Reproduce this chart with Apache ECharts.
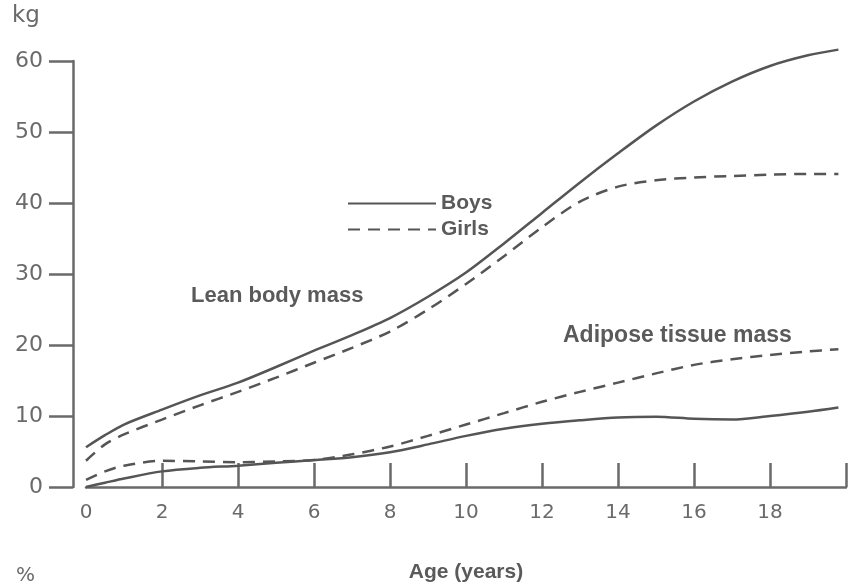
<!DOCTYPE html>
<html>
<head>
<meta charset="utf-8">
<script src="https://cdn.jsdelivr.net/npm/echarts@6/dist/echarts.min.js"></script>
<style>
  html, body { margin: 0; padding: 0; background: #fff; }
  #chart { width: 852px; height: 588px; }
</style>
</head>
<body>
<div id="chart"></div>
<script>
const ages = [0, 0.5, 1, 2, 3, 4, 5, 6, 7, 8, 9, 10, 11, 12, 13, 14, 15, 16, 17, 18, 19, 19.8];

// kg
const boysLean    = [5.6, 7.3, 8.8, 10.9, 12.9, 14.7, 16.9, 19.2, 21.4, 23.8, 26.8, 30.2, 34.3, 38.6, 42.9, 47.0, 50.9, 54.3, 57.1, 59.3, 60.8, 61.6];
const girlsLean   = [3.7, 6.0, 7.4, 9.5, 11.5, 13.4, 15.4, 17.5, 19.6, 21.9, 25.0, 28.6, 32.5, 36.6, 40.2, 42.3, 43.2, 43.6, 43.8, 44.0, 44.1, 44.1];
const girlsAdipose = [1.0, 2.2, 3.0, 3.7, 3.6, 3.5, 3.6, 3.8, 4.6, 5.7, 7.2, 8.8, 10.4, 12.0, 13.4, 14.7, 16.0, 17.2, 18.0, 18.6, 19.1, 19.4];
const boysAdipose = [0.0, 0.6, 1.2, 2.2, 2.7, 3.0, 3.4, 3.8, 4.2, 4.9, 6.0, 7.2, 8.2, 8.9, 9.4, 9.8, 9.9, 9.6, 9.5, 10.0, 10.6, 11.2];

const xTickValues  = [2, 4, 6, 8, 10, 12, 14, 16, 18, 20];
const xLabelValues = [0, 2, 4, 6, 8, 10, 12, 14, 16, 18];

const lineColor = '#555';
const axisColor = '#6a6a6a';
const textColor = '#5a5a5a';
const dash = [12, 8];

const chart = echarts.init(document.getElementById('chart'));

function pairs(vals) {
  return ages.map((a, i) => [a, vals[i]]);
}

function curve(name, vals, dashed) {
  return {
    name: name,
    type: 'line',
    data: pairs(vals),
    smooth: 0.3,
    symbol: 'none',
    silent: true,
    clip: false,
    lineStyle: { color: lineColor, width: 2.5, type: dashed ? dash : 'solid' },
    itemStyle: { color: lineColor }
  };
}

const option = {
  backgroundColor: '#fff',
  animation: false,
  grid: { left: 86, right: 6, top: 61, bottom: 91 },
  legend: {
    data: ['Boys', 'Girls'],
    orient: 'vertical',
    left: 342,
    top: 188,
    itemWidth: 88,
    itemHeight: 14,
    itemGap: 5,
    selectedMode: false,
    itemStyle: { color: 'transparent', borderWidth: 0, opacity: 0 },
    textStyle: {
      fontFamily: 'Liberation Sans',
      fontWeight: 'bold',
      fontSize: 21,
      color: textColor
    }
  },
  xAxis: {
    type: 'value',
    min: 0,
    max: 20,
    interval: 2,
    name: 'Age (years)',
    nameLocation: 'middle',
    nameGap: 75,
    nameTextStyle: {
      fontFamily: 'Liberation Sans',
      fontWeight: 'bold',
      fontSize: 21,
      color: textColor
    },
    axisLine: { show: true, onZero: false, lineStyle: { color: axisColor, width: 2.5 } },
    axisTick: {
      show: true,
      inside: true,
      length: 24,
      customValues: xTickValues,
      lineStyle: { color: axisColor, width: 2.5 }
    },
    axisLabel: {
      customValues: xLabelValues,
      margin: 16,
      fontFamily: 'DejaVu Sans',
      fontSize: 20,
      color: '#6a6a6a'
    },
    splitLine: { show: false }
  },
  yAxis: {
    type: 'value',
    min: 0,
    max: 60,
    interval: 10,
    offset: 13,
    axisLine: { show: true, onZero: false, lineStyle: { color: axisColor, width: 2.5 } },
    axisTick: { show: true, length: 24, lineStyle: { color: axisColor, width: 2.5 } },
    axisLabel: {
      margin: 30,
      fontFamily: 'DejaVu Sans',
      fontSize: 22,
      color: '#6a6a6a'
    },
    splitLine: { show: false }
  },
  graphic: [
    { type: 'text', left: 12, top: 5,
      style: { text: 'kg', font: '23px "DejaVu Sans"', fill: '#6a6a6a' } },
    { type: 'text', left: 16, top: 566,
      style: { text: '%', font: '20px "DejaVu Sans"', fill: '#6a6a6a' } },
    { type: 'text', left: 191, top: 285,
      style: { text: 'Lean body mass', font: 'bold 22px "Liberation Sans"', fill: textColor } },
    { type: 'text', left: 563, top: 324,
      style: { text: 'Adipose tissue mass', font: 'bold 23px "Liberation Sans"', fill: textColor } }
  ],
  series: [
    curve('Boys', boysLean, false),
    curve('Girls', girlsLean, true),
    curve('Girls', girlsAdipose, true),
    curve('Boys', boysAdipose, false)
  ]
};

chart.setOption(option);
</script>
</body>
</html>
